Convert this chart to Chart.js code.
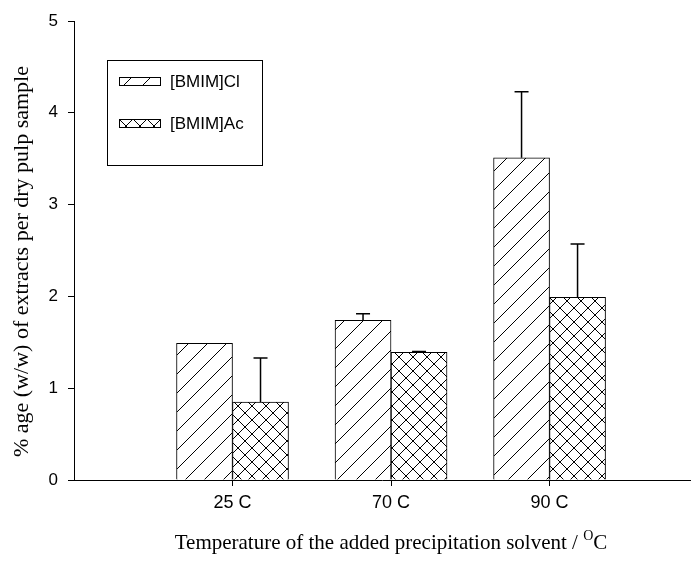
<!DOCTYPE html>
<html lang="en">
<head>
  <meta charset="UTF-8" />
  <title>Extracts per dry pulp sample</title>
  <style>
    html, body { margin: 0; padding: 0; background: #fff; }
  </style>
</head>
<body>
  <canvas id="myChart" width="699" height="563"></canvas>
  <script src="https://cdn.jsdelivr.net/npm/chart.js@4.4.1/dist/chart.umd.min.js"></script>
  <script>
    // values
    const categories = ["25 C", "70 C", "90 C"];
    const positions = [1, 2, 3];
    const clValues = [1.49, 1.74, 3.51];
    const clErrors = [0, 0.07, 0.72];
    const acValues = [0.85, 1.39, 1.99];
    const acErrors = [0.48, 0.01, 0.58];
    const yTicks = [0, 1, 2, 3, 4, 5];

    const hatch = (cross) => {
      const p = cross ? 14 : 19;
      const c = document.createElement("canvas");
      c.width = p; c.height = p;
      const g = c.getContext("2d");
      g.fillStyle = "#fff";
      g.fillRect(0, 0, p, p);
      g.strokeStyle = "#000";
      g.lineWidth = 1;
      g.beginPath();
      g.moveTo(0, p); g.lineTo(p, 0);
      g.moveTo(-1, 1); g.lineTo(1, -1);
      g.moveTo(p - 1, p + 1); g.lineTo(p + 1, p - 1);
      if (cross) {
        g.moveTo(0, 0); g.lineTo(p, p);
        g.moveTo(-1, p - 1); g.lineTo(1, p + 1);
        g.moveTo(p - 1, -1); g.lineTo(p + 1, 1);
      }
      g.stroke();
      return g.createPattern(c, "repeat");
    };

    const errorBars = {
      id: "errorBars",
      afterDatasetsDraw(chart) {
        const ctx = chart.ctx;
        const y = chart.scales.y;
        ctx.save();
        ctx.strokeStyle = "#000";
        ctx.lineWidth = 1.5;
        chart.data.datasets.forEach((ds, i) => {
          chart.getDatasetMeta(i).data.forEach((bar, j) => {
            const err = ds.errors[j];
            if (!err) return;
            const top = y.getPixelForValue(ds.data[j].y + err);
            ctx.beginPath();
            ctx.moveTo(bar.x, bar.y);
            ctx.lineTo(bar.x, top);
            ctx.moveTo(bar.x - 7, top);
            ctx.lineTo(bar.x + 7, top);
            ctx.stroke();
          });
        });
        ctx.restore();
      }
    };

    const boxLegend = {
      id: "boxLegend",
      afterDraw(chart) {
        const ctx = chart.ctx;
        ctx.save();
        ctx.strokeStyle = "#000";
        ctx.lineWidth = 1;
        ctx.strokeRect(107.5, 60.5, 155, 105);
        ctx.font = '17px "Liberation Sans"';
        ctx.textBaseline = "middle";
        chart.data.datasets.forEach((ds, i) => {
          const yy = 77.5 + i * 42;
          ctx.fillStyle = ds.backgroundColor;
          ctx.fillRect(119.5, yy, 41, 8);
          ctx.strokeRect(119.5, yy, 41, 8);
          ctx.fillStyle = "#000";
          ctx.fillText(ds.label, 170, yy + 4.5);
        });
        ctx.restore();
      }
    };

    // axis titles drawn by hand: the x title has a superscript O
    const axisTitles = {
      id: "axisTitles",
      afterDraw(chart) {
        const ctx = chart.ctx;
        const area = chart.chartArea;
        ctx.save();
        ctx.fillStyle = "#000";
        ctx.textBaseline = "alphabetic";

        const main = "Temperature of the added precipitation solvent / ";
        ctx.font = '21px "Liberation Serif"';
        const w1 = ctx.measureText(main).width;
        const w3 = ctx.measureText("C").width;
        ctx.font = '14px "Liberation Serif"';
        const w2 = ctx.measureText("O").width;
        const x = (area.left + area.right) / 2 + 9 - (w1 + w2 + w3) / 2;
        const base = 549;
        ctx.font = '21px "Liberation Serif"';
        ctx.fillText(main, x, base);
        ctx.fillText("C", x + w1 + w2, base);
        ctx.font = '14px "Liberation Serif"';
        ctx.fillText("O", x + w1, base - 9);

        ctx.translate(22, (area.top + area.bottom) / 2 + 11);
        ctx.rotate(-Math.PI / 2);
        ctx.textAlign = "center";
        ctx.textBaseline = "middle";
        ctx.font = '22px "Liberation Serif"';
        ctx.fillText("% age (w/w) of extracts per dry pulp sample", 0, 0);
        ctx.restore();
      }
    };

    Chart.defaults.font.family = '"Liberation Sans", Arial, sans-serif';
    Chart.defaults.color = "#000";

    new Chart(document.getElementById("myChart"), {
      type: "bar",
      data: {
        datasets: [
          {
            label: "[BMIM]Cl",
            data: positions.map((x, i) => ({ x: x, y: clValues[i] })),
            errors: clErrors,
            backgroundColor: hatch(false),
            borderColor: "#000",
            borderWidth: 1,
            barThickness: 56
          },
          {
            label: "[BMIM]Ac",
            data: positions.map((x, i) => ({ x: x, y: acValues[i] })),
            errors: acErrors,
            backgroundColor: hatch(true),
            borderColor: "#000",
            borderWidth: 1,
            barThickness: 56
          }
        ]
      },
      options: {
        responsive: false,
        animation: false,
        layout: { padding: { top: 21, right: 9, left: 0, bottom: 0 } },
        plugins: {
          legend: { display: false },
          tooltip: { enabled: false }
        },
        scales: {
          x: {
            type: "linear",
            offset: false,
            min: 0,
            max: 3.886,
            afterBuildTicks: (scale) => {
              scale.ticks = positions.map((v) => ({ value: v }));
            },
            afterFit: (scale) => { scale.height = 83; },
            grid: { offset: false, drawOnChartArea: false, tickLength: 6, color: "#000" },
            border: { color: "#000", width: 1 },
            ticks: {
              font: { size: 18 },
              padding: 6,
              maxRotation: 0,
              callback: (value) => categories[positions.indexOf(value)]
            }
          },
          y: {
            min: 0,
            max: 5,
            afterBuildTicks: (scale) => {
              scale.ticks = yTicks.map((v) => ({ value: v }));
            },
            afterFit: (scale) => { scale.width = 74; },
            grid: { drawOnChartArea: false, tickLength: 6, color: "#000" },
            border: { color: "#000", width: 1 },
            ticks: { font: { size: 17 }, padding: 10 }
          }
        }
      },
      plugins: [errorBars, boxLegend, axisTitles]
    });
  </script>
</body>
</html>
